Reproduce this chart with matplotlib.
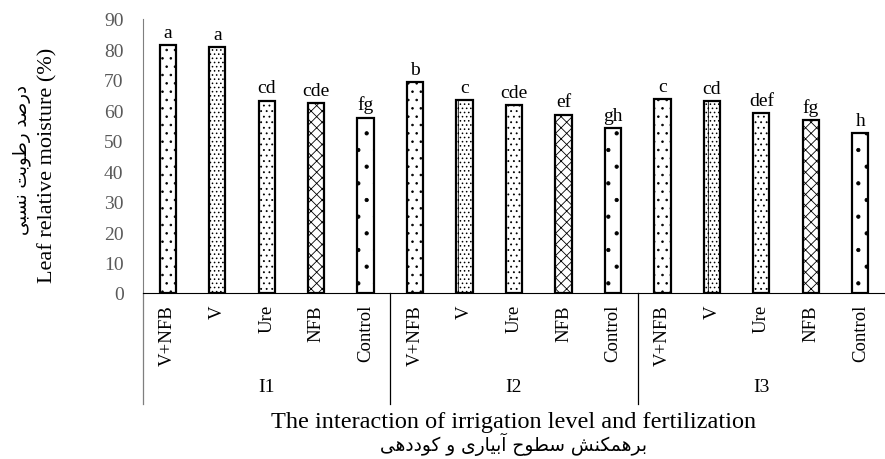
import numpy as np
import matplotlib
matplotlib.use("Agg")
import matplotlib.pyplot as plt

groups = ["I1", "I2", "I3"]
treatments = ["V+NFB", "V", "Ure", "NFB", "Control"]
moisture = [81.5, 80.7, 63.2, 62.5, 57.6,
            69.2, 63.4, 61.7, 58.6, 54.3,
            63.7, 63.0, 59.2, 56.9, 52.4]
letters = ["a", "a", "cd", "cde", "fg",
           "b", "c", "cde", "ef", "gh",
           "c", "cd", "def", "fg", "h"]
hatches = ["..", "|....", "...", "xxx", "."]

ylabel_fa = "درصد رطوبت نسبی"
xlabel_fa = "برهمکنش سطوح آبیاری و کوددهی"

# matplotlib does no arabic shaping, so pick presentation forms by hand
forms = {
    "ا": ("\uFE8D", "\uFE8E"), "آ": ("\uFE81", "\uFE82"),
    "د": ("\uFEA9", "\uFEAA"), "ر": ("\uFEAD", "\uFEAE"),
    "و": ("\uFEED", "\uFEEE"),
    "ب": ("\uFE8F", "\uFE90", "\uFE91", "\uFE92"),
    "ت": ("\uFE95", "\uFE96", "\uFE97", "\uFE98"),
    "ن": ("\uFEE5", "\uFEE6", "\uFEE7", "\uFEE8"),
    "س": ("\uFEB1", "\uFEB2", "\uFEB3", "\uFEB4"),
    "ش": ("\uFEB5", "\uFEB6", "\uFEB7", "\uFEB8"),
    "ص": ("\uFEB9", "\uFEBA", "\uFEBB", "\uFEBC"),
    "ط": ("\uFEC1", "\uFEC2", "\uFEC3", "\uFEC4"),
    "ح": ("\uFEA1", "\uFEA2", "\uFEA3", "\uFEA4"),
    "م": ("\uFEE1", "\uFEE2", "\uFEE3", "\uFEE4"),
    "ه": ("\uFEE9", "\uFEEA", "\uFEEB", "\uFEEC"),
    "ک": ("\uFB8E", "\uFB8F", "\uFB90", "\uFB91"),
    "ی": ("\uFBFC", "\uFBFD", "\uFBFE", "\uFBFF"),
}

def shape(s):
    out = []
    for i, ch in enumerate(s):
        if ch not in forms:
            out.append(ch)
            continue
        f = forms[ch]
        prev = s[i - 1] if i > 0 else ""
        nxt = s[i + 1] if i + 1 < len(s) else ""
        jp = prev in forms and len(forms[prev]) == 4
        jn = len(f) == 4 and nxt in forms
        if jp and jn:
            out.append(f[3])
        elif jp:
            out.append(f[1])
        elif jn:
            out.append(f[2])
        else:
            out.append(f[0])
    return "".join(reversed(out))

plt.rcParams["font.family"] = ["Liberation Serif", "DejaVu Sans"]
plt.rcParams["hatch.linewidth"] = 0.6

fig = plt.figure(figsize=(8.85, 4.6), dpi=100)
ax = fig.add_axes([143/885, 166/460, 742/885, 274/460])

labels = treatments * len(groups)
x = np.arange(len(moisture))
bars = ax.bar(x, moisture, width=0.33, color="white", edgecolor="black", linewidth=1.6)
for i, b in enumerate(bars):
    b.set_hatch(hatches[i % len(treatments)])
    ax.annotate(letters[i], (x[i], moisture[i]), xytext=(0, 3), textcoords="offset points",
                ha="center", va="bottom", fontsize=14)

ax.set_xlim(-0.5, len(moisture) - 0.5)
ax.set_ylim(0, 90)
ax.set_yticks(np.arange(0, 91, 10))
ax.tick_params(axis="y", length=0, pad=14, labelsize=14, labelcolor="#595959")
ax.set_xticks(x)
ax.set_xticklabels(labels, rotation=90, fontsize=13.5)
ax.tick_params(axis="x", length=0, pad=8)
for s in ["top", "right"]:
    ax.spines[s].set_visible(False)
ax.spines["left"].set_color("#7f7f7f")
ax.spines["bottom"].set_color("black")

low = -111/274
for xb in [-0.5, 4.5, 9.5]:
    ax.plot([xb, xb], [0, low], transform=ax.get_xaxis_transform(),
            color="black" if xb > 0 else "#7f7f7f", lw=0.9, clip_on=False)
for g, name in enumerate(groups):
    ax.text(g*5 + 2, -94/274, name, transform=ax.get_xaxis_transform(),
            ha="center", va="center", fontsize=14)

fig.text(514/885, 1 - 423/460, "The interaction of irrigation level and fertilization",
         ha="center", va="center", fontsize=17.5)
fig.text(514/885, 1 - 444/460, shape(xlabel_fa), ha="center", va="center",
         fontsize=13.4, family="DejaVu Sans")
fig.text(48/885, 1 - 165/460, "Leaf relative moisture (%)", rotation=90,
         ha="center", va="center", fontsize=16)
fig.text(22/885, 1 - 160/460, shape(ylabel_fa), rotation=90,
         ha="center", va="center", fontsize=13, family="DejaVu Sans")

fig.savefig("out.png", dpi=100)
